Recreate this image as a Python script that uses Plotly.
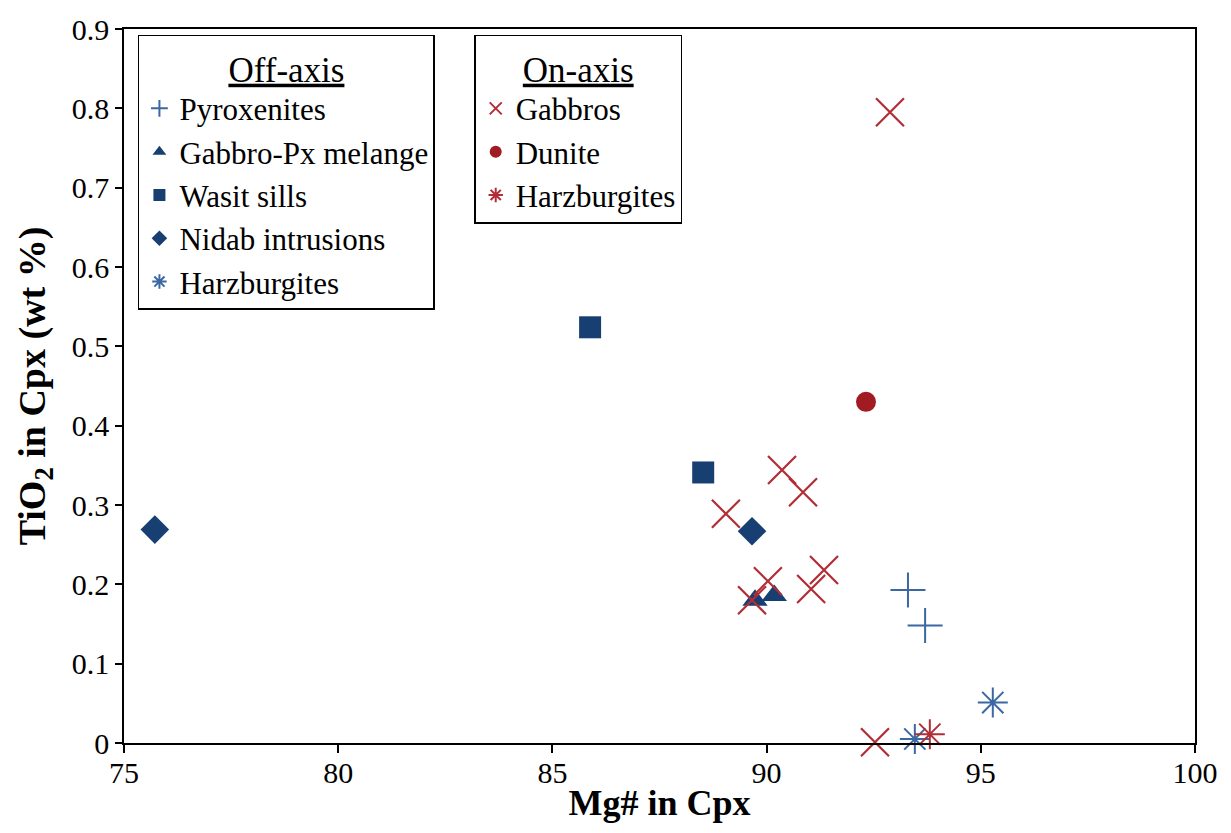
import plotly.graph_objects as go

# ---- data (Mg# in Cpx, TiO2 in Cpx wt%) ----
pyrox_x = [93.30, 93.70]
pyrox_y = [0.193, 0.148]
gpx_x = [89.73, 90.18]
gpx_y = [0.180, 0.186]
wasit_x = [85.88, 88.52]
wasit_y = [0.524, 0.341]
nidab_x = [75.72, 89.66]
nidab_y = [0.269, 0.267]
harz_off_x = [93.46, 95.28]
harz_off_y = [0.005, 0.051]

gabbro_x = [92.88, 90.36, 90.85, 89.05, 90.03, 91.34, 91.04, 89.66, 92.53]
gabbro_y = [0.795, 0.344, 0.316, 0.289, 0.204, 0.218, 0.194, 0.180, 0.001]
dunite_x = [92.32]
dunite_y = [0.430]
harz_on_x = [93.81]
harz_on_y = [0.011]

NAVY = "#173f72"
BLUE = "#3b67a3"
RED = "#b22d35"
DRED = "#a01b22"

FONT = "Liberation Serif"

fig = go.Figure()

def add(x, y, name, symbol, color, size, legend, group, lw=0):
    marker = dict(symbol=symbol, size=size, color=color)
    if symbol.endswith("open"):
        marker["line"] = dict(color=color, width=lw)
    fig.add_trace(go.Scatter(x=x, y=y, mode="markers", name=name, marker=marker,
                             legend=legend, legendgroup=group, cliponaxis=False))

add(pyrox_x, pyrox_y, "Pyroxenites", "cross-thin-open", BLUE, 25, "legend", "a", 2)
add(gpx_x, gpx_y, "Gabbro-Px melange", "triangle-up", NAVY, 22, "legend", "b")
add(wasit_x, wasit_y, "Wasit sills", "square", NAVY, 22, "legend", "c")
add(nidab_x, nidab_y, "Nidab intrusions", "diamond", NAVY, 22, "legend", "d")
add(harz_off_x, harz_off_y, "Harzburgites", "asterisk-open", BLUE, 25, "legend", "e", 2)

add(gabbro_x, gabbro_y, "Gabbros", "x-thin-open", RED, 28, "legend2", "f", 2.2)
add(dunite_x, dunite_y, "Dunite", "circle", DRED, 20, "legend2", "g")
add(harz_on_x, harz_on_y, "Harzburgites", "asterisk-open", RED, 25, "legend2", "h", 2)

legend_common = dict(
    bgcolor="white", bordercolor="black", borderwidth=1.5,
    font=dict(family=FONT, size=31, color="black"),
    itemsizing="constant", tracegroupgap=0,
    xanchor="left", yanchor="top",
)

fig.update_layout(
    width=1215, height=817,
    margin=dict(l=116, r=28, t=21, b=82),
    plot_bgcolor="white", paper_bgcolor="white",
    font=dict(family=FONT, size=30, color="black"),
    showlegend=True,
    legend=dict(**legend_common, x=0.013, y=0.992, entrywidth=272,
                title=dict(text="<u>Off-axis</u>", side="top center",
                           font=dict(family=FONT, size=35, color="black"))),
    legend2=dict(**legend_common, x=0.327, y=0.992, entrywidth=170,
                 title=dict(text="<u>On-axis</u>", side="top center",
                            font=dict(family=FONT, size=35, color="black"))),
    xaxis=dict(range=[75, 100], tickvals=[75, 80, 85, 90, 95, 100], showgrid=False,
               zeroline=False, showline=True, linecolor="black", linewidth=2, mirror=True,
               ticks="outside", ticklen=8, tickcolor="black", tickwidth=1.5,
               tickfont=dict(family=FONT, size=30), automargin=False, ticklabelstandoff=-6,
               title=dict(text="<b>Mg# in Cpx</b>", font=dict(family=FONT, size=36), standoff=2)),
    yaxis=dict(range=[0, 0.9], tickvals=[0, 0.1, 0.2, 0.3, 0.4, 0.5, 0.6, 0.7, 0.8, 0.9],
               ticktext=["0", "0.1", "0.2", "0.3", "0.4", "0.5", "0.6", "0.7", "0.8", "0.9"],
               showgrid=False, zeroline=False, showline=True, linecolor="black", linewidth=1.5,
               mirror=True, ticks="outside", ticklen=7, tickcolor="black", tickwidth=1.5,
               tickfont=dict(family=FONT, size=30), automargin=False,
               title=dict(text="<b>TiO<sub>2</sub> in Cpx (wt %)</b>", font=dict(family=FONT, size=38),
                          standoff=14)),
)

fig.write_html("out.html")
